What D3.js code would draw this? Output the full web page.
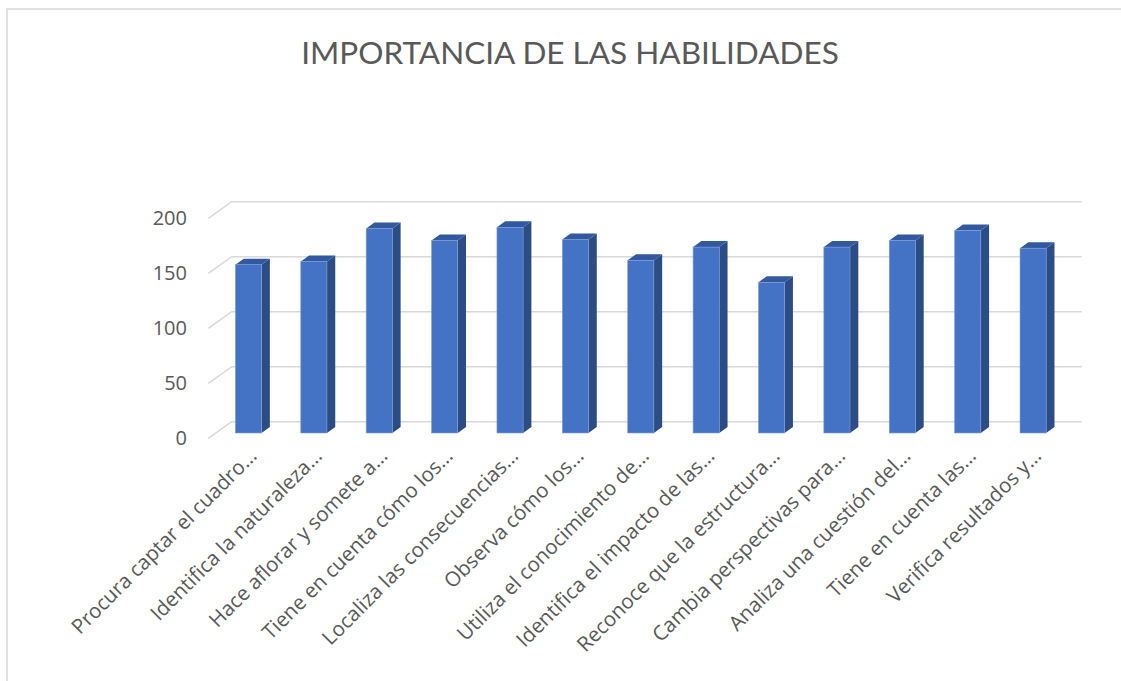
<!DOCTYPE html>
<html>
<head>
<meta charset="utf-8">
<script src="https://cdn.jsdelivr.net/npm/d3@7"></script>
<style>
  body { margin: 0; background: #ffffff; }
  svg { display: block; }
  .tick text { fill: #595959; font-family: "Open Sans", Lato, sans-serif; }
</style>
</head>
<body>
<div id="chart"></div>
<script>
// Chart data
const categories = [
  "Procura captar el cuadro…",
  "Identifica la naturaleza…",
  "Hace aflorar y somete a…",
  "Tiene en cuenta cómo los…",
  "Localiza las consecuencias…",
  "Observa cómo los…",
  "Utiliza el conocimiento de…",
  "Identifica el impacto de las…",
  "Reconoce que la estructura…",
  "Cambia perspectivas para…",
  "Analiza una cuestión del…",
  "Tiene en cuenta las…",
  "Verifica resultados y…"
];
const values = [153, 156, 186, 175, 187, 176, 157, 169, 137, 169, 175, 184, 168];
const yTicks = [0, 50, 100, 150, 200];
const title = "IMPORTANCIA DE LAS HABILIDADES";

const svgWidth = 1121;
const svgHeight = 681;

// 3D offsets (oblique projection)
const floorDx = 23.4, floorDy = -16.6;   // front edge -> back wall
const barPos = 0.32;                      // depth fraction of bar front face
const barDx = 8.3, barDy = -6;            // bar depth

const svg = d3.select("#chart")
  .append("svg")
  .attr("width", svgWidth)
  .attr("height", svgHeight);

// chart area border
svg.append("rect")
  .attr("x", 7).attr("y", 9)
  .attr("width", svgWidth + 20).attr("height", svgHeight + 20)
  .attr("fill", "#ffffff")
  .attr("stroke", "#d9d9d9")
  .attr("stroke-width", 1.5);

// Title
svg.append("text")
  .attr("x", 570)
  .attr("y", 64)
  .attr("text-anchor", "middle")
  .attr("fill", "#595959")
  .style("font-family", "Lato, 'Open Sans', sans-serif")
  .style("font-size", "31.5px")
  .text(title);

// scales on the front edge of the floor
const xScale = d3.scaleBand()
  .domain(categories)
  .range([208.3, 1058.3])
  .paddingInner(0.6)
  .paddingOuter(0.3);

const yScale = d3.scaleLinear()
  .domain([0, 200])
  .range([438.3, 218.3]);

// gridlines: side wall diagonal + back wall horizontal
const gridGroup = svg.append("g");
yTicks.forEach(t => {
  const y0 = yScale(t);
  gridGroup.append("polyline")
    .attr("points", `208.3,${y0} ${208.3 + floorDx},${y0 + floorDy} ${1081.7},${y0 + floorDy}`)
    .attr("fill", "none")
    .attr("stroke", "#d9d9d9")
    .attr("stroke-width", 1.5);
});

// y axis
const leftAxis = d3.axisLeft(yScale).tickValues(yTicks).tickSize(0).tickPadding(6);
const yAxis = svg.append("g")
  .attr("transform", "translate(193,0)")
  .call(leftAxis);
yAxis.select(".domain").remove();
yAxis.selectAll("text").style("font-size", "20px").attr("dy", "0.3em");

// bars
const shiftX = barPos * floorDx, shiftY = barPos * floorDy;
const barGroups = svg.selectAll(".bar")
  .data(categories.map((c, i) => ({ cat: c, value: values[i] })))
  .enter()
  .append("g")
  .attr("class", "bar");

barGroups.each(function (d) {
  const g = d3.select(this);
  const x0 = xScale(d.cat) + shiftX;
  const x1 = x0 + xScale.bandwidth();
  const yb = yScale(0) + shiftY;
  const yt = yScale(d.value) + shiftY;
  // side face
  g.append("polygon")
    .attr("points", `${x1},${yt} ${x1 + barDx},${yt + barDy} ${x1 + barDx},${yb + barDy} ${x1},${yb}`)
    .attr("fill", "#2c4c84");
  // top face
  g.append("polygon")
    .attr("points", `${x0},${yt} ${x0 + barDx},${yt + barDy} ${x1 + barDx},${yt + barDy} ${x1},${yt}`)
    .attr("fill", "#3259a0");
  // front face
  g.append("rect")
    .attr("x", x0)
    .attr("y", yt)
    .attr("width", xScale.bandwidth())
    .attr("height", yb - yt)
    .attr("fill", "#4472c4")
    .attr("stroke", "#7f9fd8")
    .attr("stroke-width", 0.6);
});

// category axis
const bottomAxis = d3.axisBottom(xScale).tickSize(0);
const xAxis = svg.append("g")
  .attr("transform", `translate(0,${yScale(0)})`)
  .call(bottomAxis);
xAxis.select(".domain").remove();
xAxis.selectAll("text")
  .attr("x", 0)
  .attr("y", 0)
  .attr("dy", 0)
  .attr("text-anchor", "end")
  .attr("transform", "translate(17,19) rotate(-45)")
  .style("font-size", "20.5px");
</script>
</body>
</html>
